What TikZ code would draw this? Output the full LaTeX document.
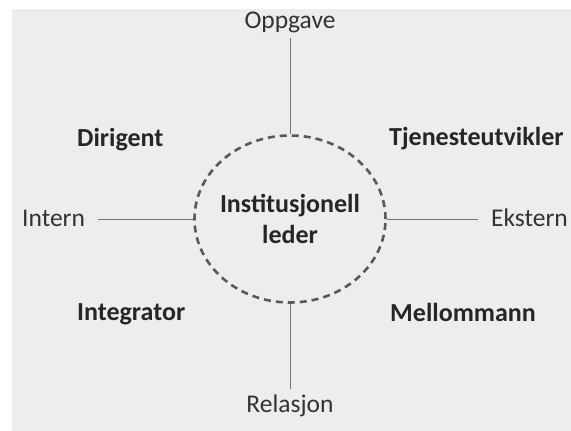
\documentclass[tikz,border=0pt]{standalone}
\usepackage{fontspec}
\setmainfont{Carlito}
\usepackage{tikz}
\usetikzlibrary{shapes.geometric}

\begin{document}
\begin{tikzpicture}[x=1pt,y=-1pt,
  axis/.style={font=\fontsize{25.5}{31}\selectfont,text=black!80,inner xsep=13pt,inner ysep=5pt},
  role/.style={font=\bfseries\fontsize{26}{31}\selectfont,text=black!85,inner sep=0pt,anchor=base west},
  link/.style={draw=black!55,line width=1pt}]
  \fill[black!7] (12,9) rectangle (571,431);
  \useasboundingbox (0,0) rectangle (571,431);
  \node[ellipse,draw=black!65,line width=2.6pt,dash pattern=on 7pt off 5pt,
    minimum width=191,minimum height=167,inner sep=0pt] (leder) at (290,219) {};
  \node[role,anchor=center,align=center] (ledertekst) at (leder.center) {Institusjonell\\leder};
  \node[axis,anchor=base] (oppgave) at (290,28) {Oppgave};
  \node[axis,anchor=base] (relasjon) at (290,412) {Relasjon};
  \node[axis,anchor=base west] (intern) at (9,226) {Intern};
  \node[axis,anchor=base east] (ekstern) at (581,226) {Ekstern};
  \draw[link] (leder.north) -- (leder.north |- oppgave.south);
  \draw[link] (leder.south) -- (leder.south |- relasjon.north);
  \draw[link] (leder.west) -- (leder.west -| intern.east);
  \draw[link] (leder.east) -- (leder.east -| ekstern.west);
  \node[role] (dirigent) at (77,146) {Dirigent};
  \node[role] (tjeneste) at (389,145) {Tjenesteutvikler};
  \node[role] (integrator) at (77,320) {Integrator};
  \node[role] (mellommann) at (390,321) {Mellommann};
\end{tikzpicture}
\end{document}
